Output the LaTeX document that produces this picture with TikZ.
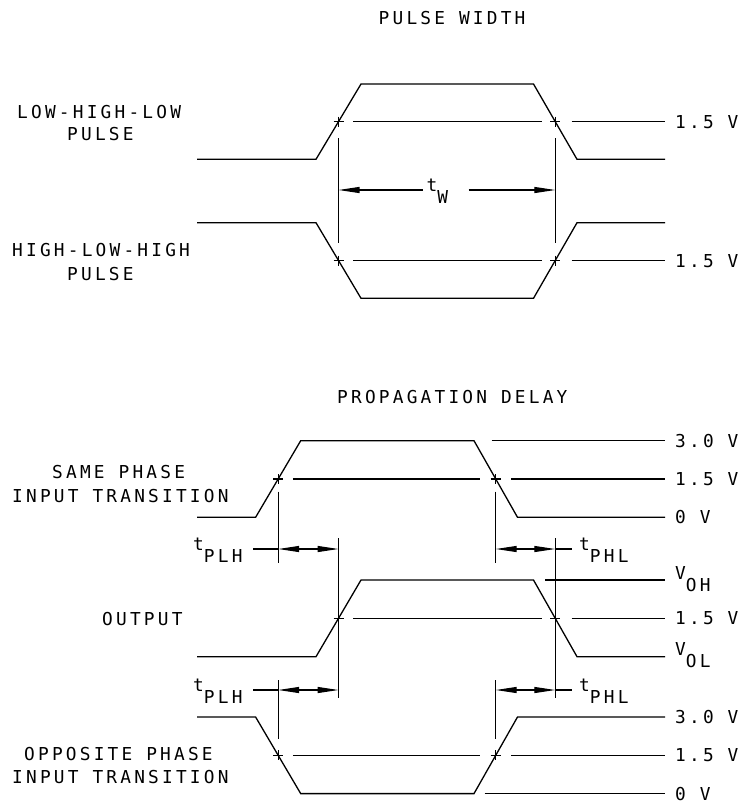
\documentclass[tikz,border=0pt]{standalone}
\usepackage{fontspec}
\newfontfamily\plotfont{DejaVu Sans Mono}[LetterSpace=18]
\usetikzlibrary{arrows.meta}
\tikzset{
  wave/.style={line width=1.3pt},
  thin/.style={line width=1.1pt},
  lbl/.style={anchor=base west, inner sep=0pt, font=\plotfont\fontsize{17.8}{20}\selectfont},
  dimboth/.style={line width=1.1pt, {Triangle[length=21pt,width=6pt]}-{Triangle[length=21pt,width=6pt]}},
  dimleft/.style={line width=1.1pt, {Triangle[length=21pt,width=6pt]}-},
  dimright/.style={line width=1.1pt, -{Triangle[length=21pt,width=6pt]}},
  crossmark/.pic={\draw[line width=1.1pt] (-5,0)--(5,0) (0,-5)--(0,5);}
}
\newcommand{\sublbl}[2]{#1\raisebox{-12pt}{#2}}
\begin{document}
\begin{tikzpicture}[x=1pt,y=-1pt]
\useasboundingbox (0,0) rectangle (747,808);

% ---------- titles ----------
\node[lbl] (pw) at (378.5,25) {PULSE WIDTH};
\node[lbl] (pd) at (337,403.3) {PROPAGATION DELAY};

% ---------- left labels ----------
\node[lbl] (lhl1) at (17,118.3) {LOW-HIGH-LOW};
\node[lbl] (lhl2) at (67,140) {PULSE};
\node[lbl] (hlh1) at (12,256.7) {HIGH-LOW-HIGH};
\node[lbl] (hlh2) at (67,280) {PULSE};
\node[lbl] (sp1) at (52,478) {SAME PHASE};
\node[lbl] (sp2) at (12,502) {INPUT TRANSITION};
\node[lbl] (outl) at (102,625) {OUTPUT};
\node[lbl] (op1) at (24,760) {OPPOSITE PHASE};
\node[lbl] (op2) at (12,783) {INPUT TRANSITION};

% ---------- right labels ----------
\node[lbl] (r1) at (675,128.2) {1.5 V};
\node[lbl] (r2) at (675,267) {1.5 V};
\node[lbl] (r3) at (675,447.2) {3.0 V};
\node[lbl] (r4) at (675,485.5) {1.5 V};
\node[lbl] (r5) at (675,523.8) {0 V};
\node[lbl] (r6) at (675,579) {\sublbl{V}{OH}};
\node[lbl] (r7) at (675,624.8) {1.5 V};
\node[lbl] (r8) at (675,655.7) {\sublbl{V}{OL}};
\node[lbl] (r9) at (675,723.5) {3.0 V};
\node[lbl] (r10) at (675,761.8) {1.5 V};
\node[lbl] (r11) at (675,800.1) {0 V};

% ---------- pulse width section ----------
\draw[wave] (197,159.3)--(316,159.3)--(361,84)--(533.5,84)--(577,159.3)--(665,159.3);
\draw[thin] (353,121.7)--(541.5,121.7) (571.6,121.7)--(665,121.7);
\pic at (338.5,121.7) {crossmark};
\pic at (555.3,121.7) {crossmark};

\draw[wave] (197,222.7)--(316,222.7)--(361,298.3)--(533.5,298.3)--(577,222.7)--(665,222.7);
\draw[thin] (353,260.5)--(541.5,260.5) (571.6,260.5)--(665,260.5);
\pic at (338.5,260.5) {crossmark};
\pic at (555.3,260.5) {crossmark};

\draw[thin] (338.5,138.3)--(338.5,243.3);
\draw[thin] (555.3,138.3)--(555.3,243.3);
\coordinate (twl) at (338.5,190);
\coordinate (twr) at (555.3,190);
\node[lbl] (tw) at (426.5,191) {\sublbl{t}{W}};
\draw[dimleft] (twl) -- (422.5,190);
\draw[dimright] (468.7,190) -- (twr);

% ---------- propagation delay: same phase input ----------
\draw[wave] (197,517.3)--(255.6,517.3)--(300.7,440.7)--(474,440.7)--(517.5,517.3)--(665,517.3);
\draw[thin] (491.7,440.7)--(665,440.7);
\draw[thin] (292.9,479)--(480.4,479) (511.3,479)--(665,479);
\pic at (278.2,479) {crossmark};
\pic at (495.7,479) {crossmark};
\draw[thin] (278.2,491.7)--(278.2,563.3);
\draw[thin] (495.7,491.7)--(495.7,563.3);

% t row 1
\node[lbl] (tplh1) at (193,550) {\sublbl{t}{PLH}};
\node[lbl] (tphl1) at (579,550) {\sublbl{t}{PHL}};
\coordinate (a1) at (278.2,549);
\coordinate (b1) at (338.5,549);
\coordinate (c1) at (495.7,549);
\coordinate (d1) at (555.3,549);
\draw[thin] (253.3,549) -- (a1);
\draw[dimboth] (a1) -- (b1);
\draw[dimboth] (c1) -- (d1);
\draw[thin] (d1) -- (571.6,549);

% ---------- output ----------
\draw[thin] (338.5,538.3)--(338.5,698.3);
\draw[thin] (555.3,538.3)--(555.3,698.3);
\draw[wave] (197,656.7)--(316,656.7)--(361,580)--(533.5,580)--(577,656.7)--(665,656.7);
\draw[thin] (545,580)--(665,580);
\draw[thin] (353,618.3)--(541.5,618.3) (571.6,618.3)--(665,618.3);
\pic at (338.5,618.3) {crossmark};
\pic at (555.3,618.3) {crossmark};

% t row 2
\node[lbl] (tplh2) at (193,691) {\sublbl{t}{PLH}};
\node[lbl] (tphl2) at (579,691) {\sublbl{t}{PHL}};
\coordinate (a2) at (278.2,690);
\coordinate (b2) at (338.5,690);
\coordinate (c2) at (495.7,690);
\coordinate (d2) at (555.3,690);
\draw[thin] (253.3,690) -- (a2);
\draw[dimboth] (a2) -- (b2);
\draw[dimboth] (c2) -- (d2);
\draw[thin] (d2) -- (571.6,690);

% ---------- opposite phase input ----------
\draw[thin] (278.2,680)--(278.2,739.3);
\draw[thin] (495.7,680)--(495.7,739.3);
\draw[wave] (197,717)--(255.6,717)--(300.7,793.6)--(474,793.6)--(517.5,717)--(665,717);
\draw[thin] (484.6,793.6)--(665,793.6);
\draw[thin] (292.9,755.3)--(480.4,755.3) (511.3,755.3)--(665,755.3);
\pic at (278.2,755.3) {crossmark};
\pic at (495.7,755.3) {crossmark};
\end{tikzpicture}
\end{document}
